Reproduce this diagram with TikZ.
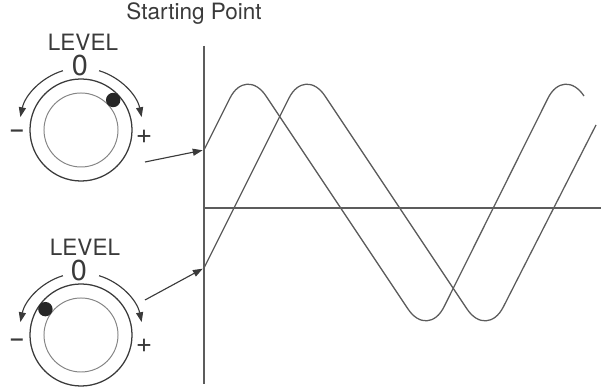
\documentclass[tikz,border=0pt]{standalone}
\usepackage{fontspec}
\setmainfont{TeX Gyre Heros}
\usetikzlibrary{arrows.meta}
\definecolor{inkdark}{HTML}{3a3a3a}
\definecolor{linegray}{HTML}{5c5c5c}
\definecolor{ringgray}{HTML}{858585}

\begin{document}
\begin{tikzpicture}[
    x=0.025cm, y=0.025cm,
    >={Triangle[length=7pt,width=5pt]},
    every node/.style={text=inkdark},
    axisline/.style={draw=linegray,line width=0.8pt},
    waveline/.style={draw=linegray,line width=0.9pt,rounded corners=0.9cm},
    outerring/.style={
        circle,
        draw=inkdark,
        line width=0.9pt,
        minimum size=2.55cm,
        inner sep=0pt,
    },
    innerring/.style={
        circle,
        draw=ringgray,
        line width=0.7pt,
        minimum size=1.85cm,
        inner sep=0pt,
    },
    knobdot/.style={circle,fill=black!85,minimum size=0.36cm,inner sep=0pt},
    turnarrow/.style={->,draw=inkdark,line width=0.8pt},
    pointer/.style={->,draw=inkdark,line width=0.8pt,shorten >=1pt},
    leveltext/.style={font=\fontsize{16}{19}\selectfont,anchor=base},
    zerotext/.style={font=\fontsize{20.5}{24}\selectfont,anchor=base},
    signtext/.style={font=\fontsize{20}{23}\selectfont},
    minustext/.style={font=\fontsize{15}{18}\selectfont\bfseries},
]
\useasboundingbox (0,0) rectangle (601,388);

% Title
\node[leveltext] (title) at (194,368) {Starting Point};

% Axes
\coordinate (axtop) at (204,342);
\coordinate (axbot) at (204,4);
\coordinate (axleft) at (204,180);
\coordinate (axright) at (601,180);
\draw[axisline] (axtop) -- (axbot);
\draw[axisline] (axleft) -- (axright);

% Waves
\coordinate (start1) at (204,238);
\coordinate (start2) at (204,120);
\draw[waveline] (start1) -- (246,322) -- (428,49) -- (564,322) -- (584,292);
\draw[waveline] (start2) -- (305,322) -- (487,49) -- (596,263);

% Knob 1: dot near the top
\node[outerring] (knob1) at (81,258) {};
\node[innerring] (ring1) at (knob1.center) {};
\node[knobdot] (dot1) at ([shift={(43:44)}]knob1.center) {};
\draw[turnarrow] ([shift={(107:62)}]knob1.center) arc[start angle=107,end angle=168,radius=62];
\draw[turnarrow] ([shift={(73:62)}]knob1.center) arc[start angle=73,end angle=12,radius=62];
\node[leveltext] (level1) at (83,337) {LEVEL};
\node[zerotext] (zero1) at (80,312) {0};
\node[minustext] (minus1) at (17,255) {--};
\node[signtext] (plus1) at (144,251) {+};

% Knob 2: dot turned to the left
\node[outerring] (knob2) at (81,53) {};
\node[innerring] (ring2) at (knob2.center) {};
\node[knobdot] (dot2) at ([shift={(144:44)}]knob2.center) {};
\draw[turnarrow] ([shift={(107:62)}]knob2.center) arc[start angle=107,end angle=168,radius=62];
\draw[turnarrow] ([shift={(73:62)}]knob2.center) arc[start angle=73,end angle=12,radius=62];
\node[leveltext] (level2) at (85,132) {LEVEL};
\node[zerotext] (zero2) at (79,107) {0};
\node[minustext] (minus2) at (17,46) {--};
\node[signtext] (plus2) at (144,42) {+};

% Pointers to the starting points
\coordinate (from1) at (145,226);
\coordinate (from2) at (145,88);
\draw[pointer] (from1) -- (start1);
\draw[pointer] (from2) -- (start2);

\end{tikzpicture}
\end{document}
